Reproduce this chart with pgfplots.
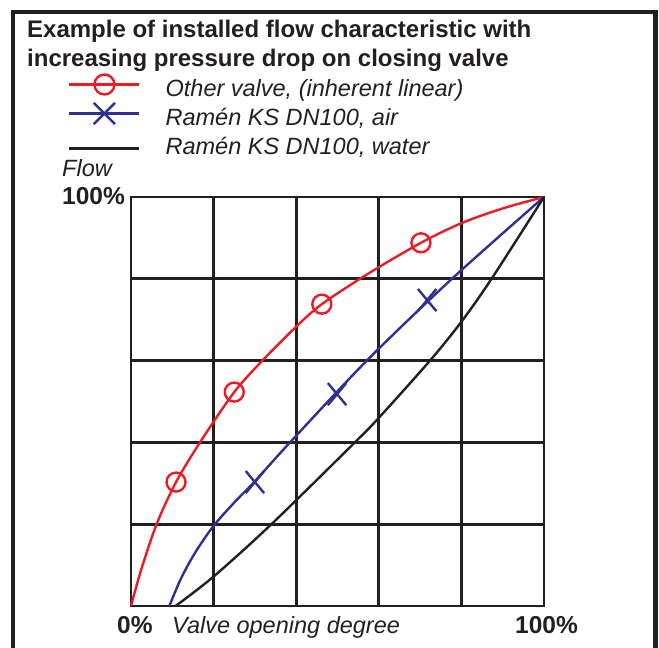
\documentclass[border=0pt]{standalone}
\usepackage{fontspec}
\setmainfont{Liberation Sans}
\usepackage{pgfplots}
\pgfplotsset{compat=1.18}

\definecolor{vred}{RGB}{237,28,36}
\definecolor{vblue}{RGB}{46,49,146}
\definecolor{vblack}{RGB}{35,31,32}

\newcommand{\itfont}{\fontsize{23.5}{28}\selectfont\itshape}
\newcommand{\bffont}{\fontsize{24.5}{29}\selectfont\bfseries}

\begin{document}
\begin{tikzpicture}[x=1pt,y=1pt]
% page = 659 x 648
\path[use as bounding box] (0pt,0pt) rectangle (659pt,648pt);

% outer frame (bottom edge is cut off in the original)
\draw[vblack, line width=4.5pt] (13pt,-5pt) -- (13pt,636pt) -- (655.5pt,636pt) -- (655.5pt,-5pt);

% title
\node[anchor=base west, inner sep=0pt, font=\fontsize{24}{28}\selectfont\bfseries, vblack] at (27pt,610pt)
  {Example of installed flow characteristic with};
\node[anchor=base west, inner sep=0pt, font=\fontsize{24}{28}\selectfont\bfseries, vblack] at (27pt,581.5pt)
  {increasing pressure drop on closing valve};

% axis labels
\node[anchor=base west, inner sep=0pt, font=\itfont, vblack] at (62pt,471pt) {Flow};
\node[anchor=base east, inner sep=0pt, font=\bffont, vblack] at (125pt,443pt) {100\%};
\node[anchor=base west, inner sep=0pt, font=\bffont, vblack] at (117pt,14pt) {0\%};
\node[anchor=base west, inner sep=0pt, font=\itfont, vblack] at (172pt,14pt) {Valve opening degree};
\node[anchor=base west, inner sep=0pt, font=\bffont, vblack] at (515pt,14pt) {100\%};

\begin{axis}[
    at={(131pt,42pt)}, anchor=south west,
    width=413pt, height=409pt, scale only axis,
    xmin=0, xmax=100, ymin=0, ymax=100,
    xtick={0,20,...,100}, ytick={0,20,...,100},
    xticklabels={}, yticklabels={},
    major tick length=0pt,
    grid=major,
    major grid style={vblack, line width=2.7pt},
    axis line style={vblack, line width=2.7pt},
    clip=false,
    % legend sample: line with mark in the middle, kept out of the row height
    legend image code/.code={
      \begin{pgfinterruptboundingbox}
      \draw[mark repeat=2, mark phase=2] plot coordinates {(0pt,6.9pt) (35pt,6.9pt) (70pt,6.9pt)};
      \end{pgfinterruptboundingbox}
      \path (0pt,0pt) (70pt,0pt);
    },
    legend style={
      at={(axis description cs:-0.1525,1.2868)}, anchor=north west,
      draw=none, fill=none, inner sep=0pt,
      font=\itfont,
      nodes={inner sep=0pt, text height=17pt, text depth=6pt, text=vblack},
      row sep=6pt,
      /tikz/every odd column/.append style={column sep=25pt},
    },
    legend cell align=left,
  ]

\addlegendimage{vred, line width=2.4pt, mark=o, mark size=10pt}
\addlegendentry{Other valve, (inherent linear)}
\addlegendimage{vblue, line width=2.4pt, mark=x, mark size=15pt}
\addlegendentry{Ramén KS DN100, air}
\addlegendimage{vblack, line width=2.4pt,
  legend image code/.code={
    \begin{pgfinterruptboundingbox}\draw (0pt,0.9pt) -- (70pt,0.9pt);\end{pgfinterruptboundingbox}
    \path (0pt,0pt) (70pt,0pt);}}
\addlegendentry{Ramén KS DN100, water}

% other valve (inherent linear)
\addplot[vred, line width=2.4pt, smooth, forget plot] coordinates {
  (0,0) (2.5,9) (6.2,20) (10.9,30.3) (16.7,40) (25,52.3) (32,60.2) (40,68.3)
  (46.2,73.8) (57.5,81.3) (70.2,88.8) (80,93.6) (90,97.2) (100,100)};
\addplot[vred, line width=2.4pt, only marks, mark=o, mark size=9.5pt, forget plot] coordinates {
  (10.9,30.3) (25,52.3) (46.2,73.8) (70.2,88.8)};

% Ramen KS DN100, air
\addplot[vblue, line width=2.4pt, smooth, forget plot] coordinates {
  (9.3,0) (12,6.5) (15.5,13) (20,19.6) (25,25.3) (30,30.5) (38.5,40)
  (57.1,60) (77.7,80) (100,100)};
\addplot[vblue, line width=2.4pt, only marks, mark=x, mark size=14.5pt,
  mark options={xscale=0.9, yscale=1.08}, forget plot] coordinates {
  (30,30.3) (49.9,51.8) (71.7,74.8)};

% Ramen KS DN100, water
\addplot[vblack, line width=2.4pt, smooth, forget plot] coordinates {
  (10.8,0) (20,7.2) (34,20) (54.2,40) (60,46) (72.4,60) (80,69.5) (87.3,80) (100,100)};

\end{axis}
\end{tikzpicture}
\end{document}
